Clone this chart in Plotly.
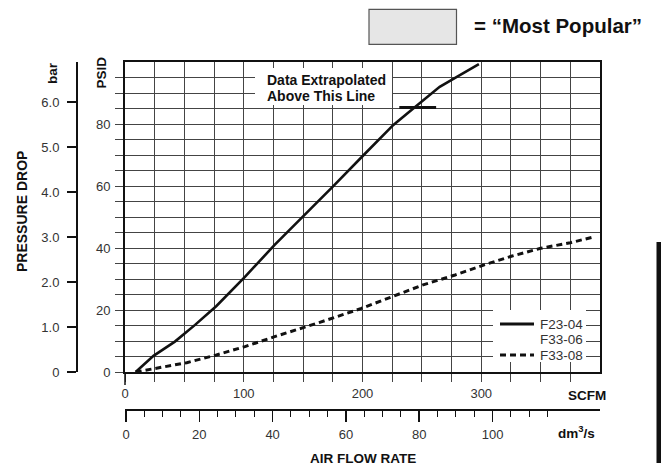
import plotly.graph_objects as go

# ---------------- data ----------------
f23_scfm = [9, 24, 42, 59, 77, 101, 126, 150, 164, 175, 201, 226, 243, 265, 278, 298]
f23_psid = [0, 5.2, 9.8, 15.2, 21.3, 30.7, 41.0, 50.1, 55.4, 59.8, 70.0, 79.7, 85.1, 92.0, 94.9, 99.3]

f33_scfm = [9, 27, 52, 77, 101, 126, 164, 199, 226, 251, 278, 302, 326, 350, 375, 395]
f33_psid = [0, 1.2, 3.0, 5.5, 8.2, 11.4, 16.0, 20.5, 24.5, 28.1, 31.3, 34.5, 37.4, 39.9, 41.7, 43.6]

legend_names = ["F23-04", "F33-06", "F33-08"]

extrap_scfm = [231, 262]
extrap_psid = [85.3, 85.3]

scfm_ticks = [0, 100, 200, 300]
scfm_minor = [25, 50, 75, 125, 150, 175, 225, 250, 275, 325, 350, 375]
psid_ticks = [0, 20, 40, 60, 80]
psid_minor = [5, 10, 15, 25, 30, 35, 45, 50, 55, 65, 70, 75, 85, 90, 95]
bar_ticks = [0, 1, 2, 3, 4, 5, 6]
bar_labels = ["0", "1.0", "2.0", "3.0", "4.0", "5.0", "6.0"]
dm3_ticks = [0, 20, 40, 60, 80, 100]
dm3_minor = [5, 10, 15, 25, 30, 35, 45, 50, 55, 65, 70, 75, 85, 90, 95, 105, 110, 115]

PSI_PER_BAR = 14.5038

# ---------------- geometry helpers ----------------
# the page's default body margin is removed (see write_html below),
# so figure pixels equal window pixels
W, H = 661, 470
def fx(px):
    return px / W
def fy(py):
    return 1 - py / H

FONT = "Liberation Sans, Arial, Helvetica, sans-serif"
TXT = "#333333"
DARK = "#111111"
GRID = "#444444"

fig = go.Figure()

fig.add_trace(go.Scatter(x=f23_scfm, y=f23_psid, mode="lines", name=legend_names[0],
                         line=dict(color=DARK, width=2.6), hoverinfo="skip", showlegend=False))
fig.add_trace(go.Scatter(x=f33_scfm, y=f33_psid, mode="lines", name=legend_names[2],
                         line=dict(color=DARK, width=3, dash="6px,4px"), hoverinfo="skip",
                         showlegend=False))
fig.add_trace(go.Scatter(x=extrap_scfm, y=extrap_psid, mode="lines", showlegend=False,
                         line=dict(color=DARK, width=3), hoverinfo="skip"))
# helper traces so the secondary axes are drawn
fig.add_trace(go.Scatter(x=[0], y=[0], xaxis="x", yaxis="y2", mode="markers",
                         marker=dict(size=1, opacity=0), showlegend=False, hoverinfo="skip"))
fig.add_trace(go.Scatter(x=[0], y=[0], xaxis="x2", yaxis="y", mode="markers",
                         marker=dict(size=1, opacity=0), showlegend=False, hoverinfo="skip"))

x0, x1 = 125, 600
y0, y1 = 372, 62
dm3_px_per = 3.673
dm3_zero_px = 126

fig.update_layout(
    width=W, height=H,
    margin=dict(l=0, r=0, t=0, b=0, pad=0, autoexpand=False),
    paper_bgcolor="white", plot_bgcolor="white",
    font=dict(family=FONT, size=13, color=TXT),
    showlegend=False,
    xaxis=dict(
        domain=[fx(x0), fx(x1)], range=[0, 400], automargin=False,
        tickmode="array", tickvals=scfm_ticks,
        ticks="outside", ticklen=8, tickcolor=GRID, tickwidth=1,
        showgrid=True, gridcolor=GRID, gridwidth=1,
        minor=dict(tickmode="array", tickvals=scfm_minor, ticks="outside", ticklen=8,
                   tickcolor=GRID, showgrid=True, gridcolor=GRID, gridwidth=1),
        showline=True, linecolor=DARK, linewidth=2, mirror=True,
        zeroline=False, tickfont=dict(size=13, color=TXT),
        fixedrange=True,
    ),
    yaxis=dict(
        domain=[fy(y0), fy(y1)], range=[0, 100], automargin=False,
        tickmode="array", tickvals=psid_ticks,
        ticks="outside", ticklen=8, tickcolor=GRID, tickwidth=1,
        showgrid=True, gridcolor=GRID, gridwidth=1,
        minor=dict(tickmode="array", tickvals=psid_minor, ticks="outside", ticklen=8,
                   tickcolor=GRID, showgrid=True, gridcolor=GRID, gridwidth=1),
        showline=True, linecolor=DARK, linewidth=2, mirror=True,
        zeroline=False, tickfont=dict(size=13, color=TXT), ticklabelstandoff=2,
        fixedrange=True,
    ),
    yaxis2=dict(
        overlaying="y", anchor="free", position=fx(77), side="left", automargin=False,
        range=[0, 100 / PSI_PER_BAR],
        tickmode="array", tickvals=bar_ticks, ticktext=bar_labels,
        ticks="outside", ticklen=9, tickcolor=DARK, tickwidth=1.5,
        showgrid=False, zeroline=False,
        showline=True, linecolor=DARK, linewidth=2,
        tickfont=dict(size=13, color=TXT), ticklabelstandoff=5,
        fixedrange=True,
    ),
    xaxis2=dict(
        overlaying="x", anchor="free", position=fy(410), side="bottom", automargin=False,
        range=[(x0 - dm3_zero_px) / dm3_px_per, (x1 + 1 - dm3_zero_px) / dm3_px_per],
        tickmode="array", tickvals=dm3_ticks,
        ticks="outside", ticklen=11, tickcolor=DARK, tickwidth=1.5,
        minor=dict(tickmode="array", tickvals=dm3_minor, ticks="outside", ticklen=6,
                   tickcolor=DARK, tickwidth=1, showgrid=False),
        showgrid=False, zeroline=False,
        showline=True, linecolor=DARK, linewidth=2,
        tickfont=dict(size=13, color=TXT), ticklabelstandoff=1,
        fixedrange=True,
    ),
)

def ann(text, px, py, size=13.5, angle=0, bold=True, xanchor="center", color=DARK, **kw):
    fig.add_annotation(
        text=f"<b>{text}</b>" if bold else text,
        x=fx(px), y=fy(py), xref="paper", yref="paper",
        xanchor=xanchor, yanchor="middle",
        showarrow=False, textangle=angle,
        font=dict(family=FONT, size=size, color=color), **kw)

def paper_rect(px0, py0, px1, py1, **kw):
    fig.add_shape(type="rect", xref="paper", yref="paper",
                  x0=fx(px0), x1=fx(px1), y0=fy(py1), y1=fy(py0), **kw)

def paper_line(px0, py0, px1, py1, **kw):
    fig.add_shape(type="line", xref="paper", yref="paper",
                  x0=fx(px0), x1=fx(px1), y0=fy(py0), y1=fy(py1), **kw)

# axis titles
ann("bar", 52, 73, angle=-90)
ann("PSID", 101, 72.5, angle=-90)
ann("PRESSURE DROP", 22, 212, size=14, angle=-90)
ann("SCFM", 587, 395)
ann("dm<sup>3</sup>/s", 576, 432)
ann("AIR FLOW RATE", 363, 458)

# longer tick at the origin of the SCFM scale
paper_line(125, 372, 125, 385, line=dict(color=DARK, width=1.5))

# "Most Popular" key
paper_rect(369, 9.3, 456.5, 44.3, fillcolor="#e6e6e6", line=dict(color="#555555", width=1.2))
ann("= \u201cMost Popular\u201d", 558, 26, size=20.5)

# "Data Extrapolated / Above This Line" label on a white patch
paper_rect(255, 68, 392, 105, fillcolor="white", line=dict(width=0), layer="above")
ann("Data Extrapolated", 265, 80, size=14, xanchor="left")
ann("Above This Line", 265, 95.5, size=14, xanchor="left")

# legend drawn on a white patch
paper_rect(493, 310, 586, 362, fillcolor="white", line=dict(width=0), layer="above")
legend_y = [324, 339.5, 355]
legend_dash = ["solid", None, "6px,4px"]
for name, ly, dash in zip(legend_names, legend_y, legend_dash):
    ann(name, 538, ly, size=13.5, bold=False, xanchor="left", color=TXT)
    if dash is not None:
        paper_line(500, ly, 534, ly, line=dict(color=DARK, width=3, dash=dash), layer="above")

# black side bar
paper_rect(656.5, 242, 661, 463, fillcolor="#111111", line=dict(width=0), layer="above")

fig.write_html(
    "out.html",
    config={"displayModeBar": False, "staticPlot": True},
    post_script="document.body.style.margin='0';document.body.style.overflow='hidden';",
)
